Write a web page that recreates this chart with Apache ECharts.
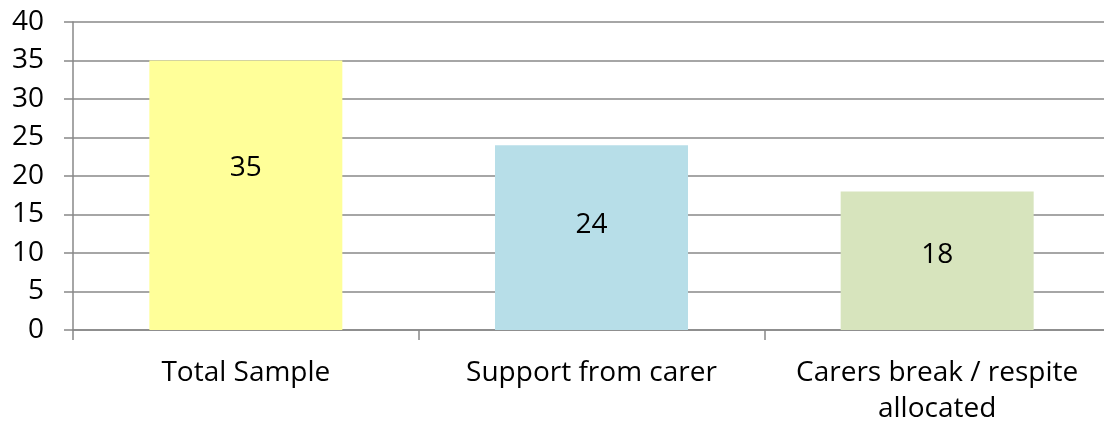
<!DOCTYPE html>
<html><head><meta charset="utf-8">
<script src="https://cdn.jsdelivr.net/npm/echarts@6/dist/echarts.min.js"></script>
<style>html,body{margin:0;padding:0;background:#fff}#c{width:1104px;height:424px}</style>
</head><body><div id="c"></div>
<script>
const categories = ['Total Sample', 'Support from carer', 'Carers break / respite\nallocated'];
const values = [35, 24, 18];
const barColors = ['#FFFF99', '#B7DEE8', '#D7E4BD'];
const labelPosY = ['40%', '43%', '46%'];
const yTicks = { min: 0, max: 40, interval: 5 };

const FONT = 'Open Sans';
const chart = echarts.init(document.getElementById('c'));
chart.setOption({
  animation: false,
  grid: { left: 73, top: 22, width: 1037, height: 308, containLabel: false, outerBoundsMode: 'none' },
  xAxis: {
    type: 'category',
    data: categories,
    axisLine: { lineStyle: { color: '#888', width: 1.5 } },
    axisTick: { show: true, length: 10, alignWithLabel: false, lineStyle: { color: '#888', width: 1.5 } },
    axisLabel: { color: '#000', fontFamily: FONT, fontSize: 28, margin: 25, lineHeight: 36, interval: 0 }
  },
  yAxis: {
    type: 'value',
    min: yTicks.min, max: yTicks.max, interval: yTicks.interval,
    axisLine: { show: true, lineStyle: { color: '#888', width: 1.5 } },
    axisTick: { show: true, length: 9, lineStyle: { color: '#888', width: 1.5 } },
    splitLine: { lineStyle: { color: '#888', width: 1.5 } },
    axisLabel: { color: '#000', fontFamily: FONT, fontSize: 28, margin: 29 }
  },
  series: [{
    type: 'bar',
    barWidth: 193,
    data: values.map((v, i) => ({
      value: v,
      itemStyle: { color: barColors[i] },
      label: { position: ['50%', labelPosY[i]] }
    })),
    label: {
      show: true, align: 'center', verticalAlign: 'middle',
      color: '#000', fontFamily: FONT, fontSize: 28
    }
  }]
});
</script></body></html>
